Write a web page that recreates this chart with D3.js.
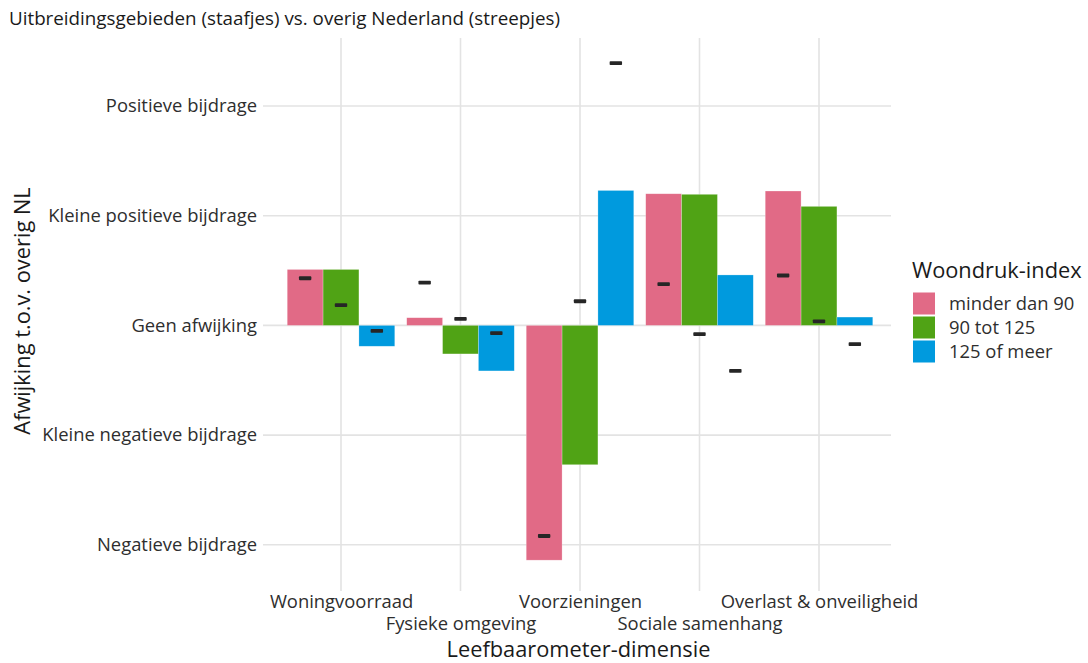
<!DOCTYPE html>
<html><head><meta charset="utf-8">
<script src="https://cdn.jsdelivr.net/npm/d3@7"></script>
<style>
body{margin:0;background:#fff;}
text{font-family:"Open Sans",sans-serif;}
</style></head>
<body>
<svg id="chart" width="1088" height="663"></svg>
<script>
const categories = ["Woningvoorraad","Fysieke omgeving","Voorzieningen","Sociale samenhang","Overlast & onveiligheid"];
const groups = ["minder dan 90","90 tot 125","125 of meer"];
const colors = ["#E16A86","#50A315","#009ADE"];
// bars: uitbreidingsgebieden
const barsMinder = [0.51, 0.07, -2.14, 1.20, 1.225];
const bars90 = [0.51, -0.26, -1.27, 1.195, 1.085];
const bars125 = [-0.19, -0.415, 1.23, 0.46, 0.076];
// dashes: overig Nederland
const dashMinder = [0.43, 0.39, -1.92, 0.376, 0.455];
const dash90 = [0.185, 0.06, 0.22, -0.08, 0.037];
const dash125 = [-0.05, -0.07, 2.39, -0.415, -0.17];
const yTickValues = [2, 1, 0, -1, -2];
const yTickLabels = ["Positieve bijdrage","Kleine positieve bijdrage","Geen afwijking","Kleine negatieve bijdrage","Negatieve bijdrage"];

const barSeries = [barsMinder, bars90, bars125];
const dashSeries = [dashMinder, dash90, dash125];

const svg = d3.select("#chart");
const panel = {left: 263, right: 891, top: 38, bottom: 591};
const small = 18.4, big = 21.8;

const x = d3.scalePoint().domain(categories).range([341, 819]);
const step = x.step();
const dodge = d3.scaleBand().domain(groups).range([-0.45*step, 0.45*step]);
const y = d3.scaleLinear().domain([-2, 2]).range([544.8, 106]);

const grid = svg.append("g");
grid.selectAll("line.h").data(yTickValues).join("line")
  .attr("x1", panel.left).attr("x2", panel.right)
  .attr("y1", d => y(d)).attr("y2", d => y(d))
  .attr("stroke", "#e3e3e3").attr("stroke-width", 1.6);
grid.selectAll("line.v").data(categories).join("line")
  .attr("y1", panel.top).attr("y2", panel.bottom)
  .attr("x1", d => x(d)).attr("x2", d => x(d))
  .attr("stroke", "#e3e3e3").attr("stroke-width", 1.6);

// bars
groups.forEach((g, gi) => {
  svg.append("g").selectAll("rect").data(barSeries[gi]).join("rect")
    .attr("x", (d, i) => x(categories[i]) + dodge(g))
    .attr("width", dodge.bandwidth())
    .attr("y", d => y(Math.max(0, d)))
    .attr("height", d => Math.abs(y(d) - y(0)))
    .attr("fill", colors[gi])
    .attr("stroke", "#ffffff").attr("stroke-opacity", 0.4).attr("stroke-width", 0.6);
});
// dashes
groups.forEach((g, gi) => {
  svg.append("g").selectAll("rect").data(dashSeries[gi]).join("rect")
    .attr("x", (d, i) => x(categories[i]) + dodge(g) + dodge.bandwidth()/2 - 6.2)
    .attr("width", 12.4)
    .attr("y", d => y(d) - 1.9)
    .attr("height", 3.8)
    .attr("rx", 0.8)
    .attr("fill", "#262626");
});

// y axis
const yAxis = svg.append("g").attr("transform", `translate(${panel.left},0)`)
  .call(d3.axisLeft(y).tickValues(yTickValues)
    .tickFormat(d => yTickLabels[yTickValues.indexOf(d)]).tickSize(0).tickPadding(6));
yAxis.select(".domain").remove();
yAxis.selectAll("text").attr("font-size", small).attr("fill", "#2e2e2e").attr("font-family", "Open Sans");

// x axis
const xAxis = svg.append("g").attr("transform", `translate(0,${panel.bottom})`)
  .call(d3.axisBottom(x).tickSize(0));
xAxis.select(".domain").remove();
xAxis.selectAll("text")
  .attr("font-size", small).attr("fill", "#2e2e2e").attr("font-family", "Open Sans")
  .attr("dy", 0)
  .attr("y", (d, i) => i % 2 === 0 ? 17 : 39);

// axis titles
svg.append("text").attr("x", 578.5).attr("y", 657).attr("text-anchor", "middle")
  .attr("font-size", big).attr("fill", "#1a1a1a").text("Leefbaarometer-dimensie");
svg.append("text").attr("transform", "translate(30,311) rotate(-90)").attr("text-anchor", "middle")
  .attr("font-size", big).attr("fill", "#1a1a1a").text("Afwijking t.o.v. overig NL");

// title
svg.append("text").attr("x", 9).attr("y", 25).attr("font-size", 18.8).attr("fill", "#1a1a1a")
  .text("Uitbreidingsgebieden (staafjes) vs. overig Nederland (streepjes)");

// legend
const lg = svg.append("g");
lg.append("text").attr("x", 912).attr("y", 278).attr("font-size", big).attr("fill", "#1a1a1a").text("Woondruk-index");
groups.forEach((g, gi) => {
  lg.append("rect").attr("x", 913).attr("y", 292.5 + gi*24).attr("width", 22).attr("height", 22).attr("fill", colors[gi]);
  lg.append("text").attr("x", 949).attr("y", 303.5 + gi*24).attr("dy", "0.35em")
    .attr("font-size", small).attr("fill", "#2e2e2e").text(g);
});
</script>
</body></html>
